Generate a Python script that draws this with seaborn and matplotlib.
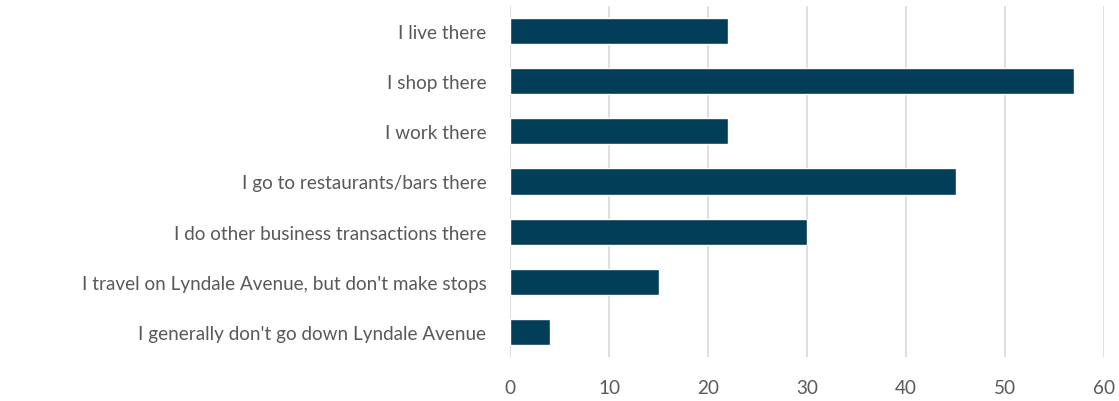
"""Horizontal bar chart: how respondents use Lyndale Avenue."""

import matplotlib

matplotlib.use("Agg")
import matplotlib.pyplot as plt
import pandas as pd
import seaborn as sns

CATEGORIES = [
    "I live there",
    "I shop there",
    "I work there",
    "I go to restaurants/bars there",
    "I do other business transactions there",
    "I travel on Lyndale Avenue, but don't make stops",
    "I generally don't go down Lyndale Avenue",
]
COUNTS = [22, 57, 22, 45, 30, 15, 4]
X_TICKS = [0, 10, 20, 30, 40, 50, 60]

BAR_COLOR = "#033E58"
TEXT_COLOR = "#595959"
GRID_COLOR = "#D9D9D9"


def main() -> None:
    df = pd.DataFrame({"category": CATEGORIES, "count": COUNTS})

    sns.set_style("white")
    plt.rcParams["font.family"] = ["Lato", "DejaVu Sans"]

    fig = plt.figure(figsize=(11.19, 4.02), dpi=100)
    ax = fig.add_axes([0.4558, 0.1095, 0.5308, 0.8731])
    sns.barplot(data=df, x="count", y="category", color=BAR_COLOR,
                width=0.52, saturation=1, ax=ax, zorder=3)

    ax.set_xlim(0, 60)
    ax.set_xticks(X_TICKS)
    ax.set_xlabel("")
    ax.set_ylabel("")
    ax.grid(True, axis="x", color=GRID_COLOR, linewidth=1.2, zorder=0)
    ax.grid(False, axis="y")
    for side in ax.spines.values():
        side.set_visible(False)
    ax.tick_params(axis="both", length=0, labelsize=13.6, colors=TEXT_COLOR)
    ax.tick_params(axis="x", pad=16)
    ax.tick_params(axis="y", pad=17)

    fig.savefig("out.png", dpi=100)
    plt.close(fig)


if __name__ == "__main__":
    main()
